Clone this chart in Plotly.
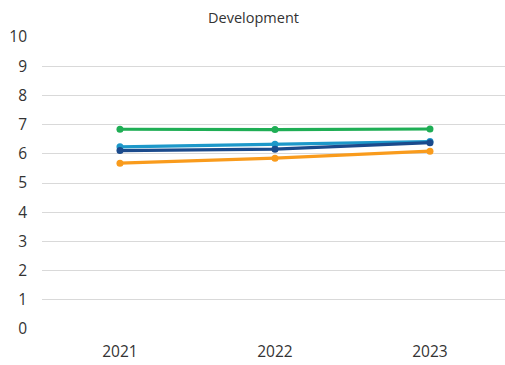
import plotly.graph_objects as go

# Yearly scores per group
years = ["2021", "2022", "2023"]
green_vals = [6.84, 6.83, 6.85]
orange_vals = [5.68, 5.85, 6.09]
lightblue_vals = [6.24, 6.33, 6.42]
darkblue_vals = [6.11, 6.16, 6.38]

series = [
    ("Group A", green_vals, "#1fae55"),
    ("Group B", orange_vals, "#f99b1c"),
    ("Group C", lightblue_vals, "#1d98c9"),
    ("Group D", darkblue_vals, "#1b4a8c"),
]

fig = go.Figure()
for name, vals, color in series:
    fig.add_trace(go.Scatter(
        x=years, y=vals, name=name, mode="lines+markers",
        line=dict(color=color, width=3.2),
        marker=dict(color=color, size=7),
    ))

font_family = "Open Sans, Liberation Sans, sans-serif"
fig.update_layout(
    width=505, height=365,
    margin=dict(l=42, r=0, t=37, b=36),
    paper_bgcolor="white", plot_bgcolor="white",
    showlegend=False,
    title=dict(text="Development", x=0.502, xref="container", xanchor="center",
               y=0.952, yref="container", yanchor="middle",
               font=dict(family=font_family, size=14.5, color="#333333")),
    font=dict(family=font_family, color="#404040"),
)
fig.update_xaxes(
    type="category", range=[-0.503, 2.484],
    showgrid=False, zeroline=False, showline=False,
    ticks="", tickfont=dict(size=15.5, color="#333333"),
    ticklabelstandoff=11,
)
fig.update_yaxes(
    range=[0, 10], dtick=1, tick0=0,
    showgrid=True, gridcolor="#d9d9d9", gridwidth=1,
    zeroline=False, showline=False,
    ticks="", tickfont=dict(size=15.5, color="#333333"),
    ticklabelstandoff=14,
)

fig.write_html("out.html")
